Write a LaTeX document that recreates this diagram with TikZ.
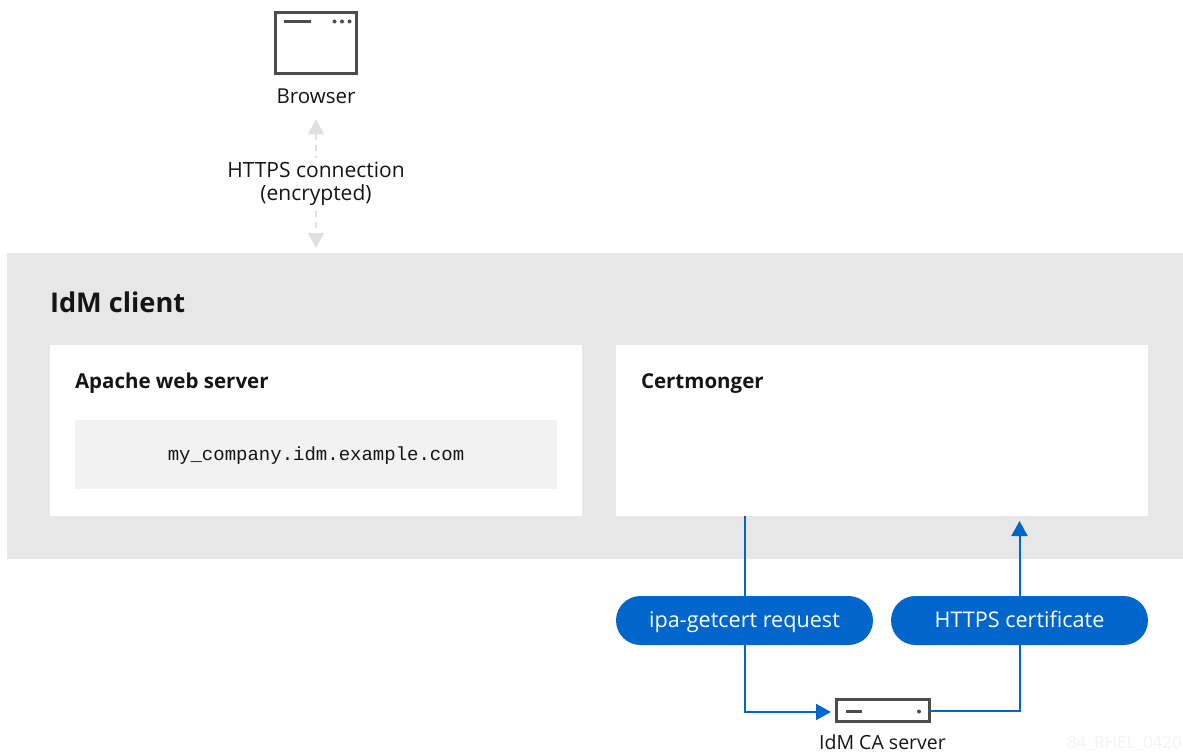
\documentclass[tikz,border=0pt]{standalone}
\usepackage{fontspec}
\setmainfont{Open Sans}
\setmonofont{Liberation Mono}
\usetikzlibrary{positioning}
\usetikzlibrary{arrows.meta}
\definecolor{clientgray}{HTML}{E7E7E7}
\definecolor{codegray}{HTML}{F2F2F2}
\definecolor{icongray}{HTML}{4D4D4D}
\definecolor{linkgray}{HTML}{E0E0E0}
\definecolor{pillblue}{HTML}{0066CC}
\definecolor{inkblack}{HTML}{151515}
\definecolor{markgray}{HTML}{F3F3F3}

\begin{document}
\begin{tikzpicture}[x=1pt,y=-1pt,>={Triangle[length=15pt,width=16pt]},
	inner sep=0pt,outer sep=0pt,text=inkblack,node distance=12pt,
	every node/.style={font=\fontsize{20.5}{23}\selectfont},
	group box/.style={rectangle,fill=clientgray,minimum width=1176pt,minimum height=306pt},
	part box/.style={rectangle,fill=white,minimum width=532pt,minimum height=171pt},
	code box/.style={rectangle,fill=codegray,minimum width=482pt,minimum height=69pt,
		text height=14pt,text depth=2pt,font=\ttfamily\fontsize{19}{23}\selectfont},
	pill node/.style={rectangle,rounded corners=24.5pt,fill=pillblue,text=white,
		minimum width=257pt,minimum height=49pt,text height=18pt,text depth=4pt,
		font=\fontsize{21.6}{23}\selectfont},
	icon node/.style={rectangle,draw=icongray,line width=3pt,fill=white},
	icon line/.style={draw=icongray,line width=2.5pt},
	head text/.style={text height=15pt,text depth=5pt,font=\bfseries\fontsize{20.5}{23}\selectfont},
	blue link/.style={draw=pillblue,line width=2pt},
	gray link/.style={draw=linkgray,line width=1.5pt,dash pattern=on 6pt off 5pt}]
	\useasboundingbox (0,0) rectangle (1183,754);
	
	\node[group box] (client) at (595,406) {};
	\node[anchor=west,font=\bfseries\fontsize{27.2}{30}\selectfont] (clienttitle) at (50,302.5) {IdM client};
	\node[part box] (apache) at (316,430.5) {};
	\node[part box] (certmonger) at (882,430.5) {};
	\node[head text,anchor=west] (apachetitle) at (75,383) {Apache web server};
	\node[head text,anchor=west] (certmongertitle) at (641,383) {Certmonger};
	\node[code box] (hostname) at (316,454.5) {my\_company.idm.example.com};
	
	\node[icon node,minimum width=81pt,minimum height=61pt] (browser) at (316,43) {};
	\node (browserlabel) [below=15pt of browser] {Browser};
	\node[icon node,minimum width=93pt,minimum height=22pt] (server) at (882.5,710.5) {};
	\node[font=\fontsize{19.5}{23}\selectfont] (serverlabel) [below=13pt of server] {IdM CA server};
	
	\node[pill node] (request) at (744.5,620.5) {ipa-getcert request};
	\node[pill node] (certificate) at (1019.5,620.5) {HTTPS certificate};
	
	\draw[icon line] ([shift={(8,9)}]browser.north west) -- ++(27,0);
	\foreach \dotx in {59,66.5,74}
		\fill[icongray] ([shift={(\dotx,9)}]browser.north west) circle (2pt);
	\draw[icon line] ([shift={(10,12)}]server.north west) -- ++(16,0);
	\fill[icongray] ([shift={(83,12)}]server.north west) circle (2pt);
	
	\draw[gray link,<->,shorten <=16pt,shorten >=5pt] (browserlabel) -- (client.north -| browserlabel);
	\node[fill=white,align=center,inner ysep=4pt,font=\fontsize{21}{23}\selectfont] (httpslabel) at (316,184) {HTTPS connection\\(encrypted)};
	
	\draw[blue link] (certmonger.south -| request) -- (request);
	\draw[blue link,->,shorten >=5pt] (request) |- ([yshift=-1.5pt]server.west);
	\draw[blue link] (server) -| (certificate);
	\draw[blue link,->,shorten >=5pt] (certificate) -- (certmonger.south -| certificate);
	
	\node[anchor=west,text=markgray,font=\fontsize{17}{20}\selectfont] (watermark) at (1067,744) {84\_RHEL\_0420};
	\end{tikzpicture}
\end{document}
